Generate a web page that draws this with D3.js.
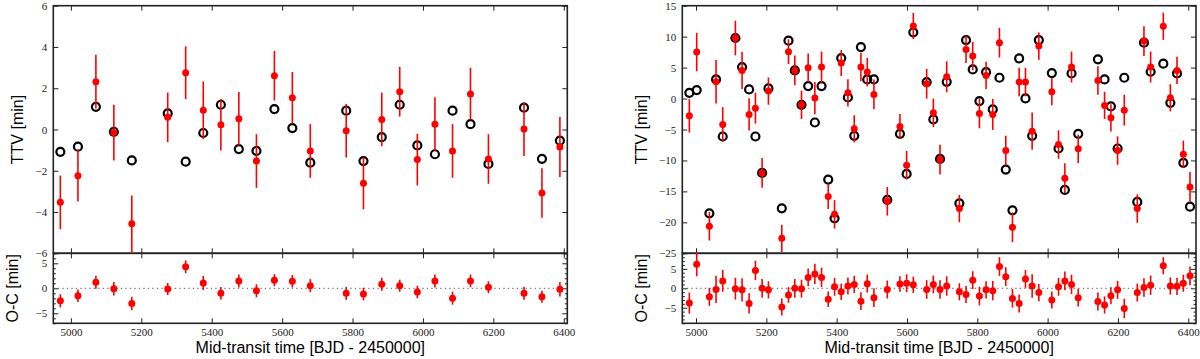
<!DOCTYPE html>
<head>
<meta charset="utf-8">
<script src="https://d3js.org/d3.v7.min.js"></script>
<style>
    body {
        margin: 0;
        background-color: #fff;
    }
    .tick text {
        font-family: "Liberation Serif", "DejaVu Serif", serif;
        font-size: 11px;
        fill: #222;
    }
    .tick line {
        stroke: #222;
        stroke-width: 1;
    }
    .axis-label {
        font-family: "Liberation Sans", Arial, sans-serif;
        font-size: 16px;
        fill: #000;
    }
</style>
</head>
<body>
<svg width="1200" height="359"></svg>
<script>

// ---- left system ----
var leftTime = [4970, 5020, 5071, 5122, 5173, 5275, 5326, 5376, 5426, 5477, 5527, 5578, 5629,
                5680, 5782, 5831, 5883, 5934, 5984, 6034, 6084, 6135, 6186, 6287, 6338, 6389];
var leftModel = [-1.08, -0.83, 1.10, -0.11, -1.50, 0.78, -1.56, -0.17, 1.20, -0.95, -1.04, 0.99, 0.07,
                 -1.61, 0.91, -1.53, -0.37, 1.20, -0.77, -1.20, 0.91, 0.26, -1.67, 1.06, -1.42, -0.54];
var leftObs = [-3.53, -2.24, 2.32, -0.15, -4.57, 0.59, 2.75, 0.93, 0.23, 0.52, -1.53, 2.61, 1.54,
               -1.04, -0.06, -2.61, 0.49, 1.83, -1.46, 0.26, -1.04, 1.72, -1.43, 0.02, -3.08, -0.85];
var leftErr = [1.30, 1.25, 1.30, 1.35, 1.37, 1.20, 1.28, 1.40, 1.25, 1.30, 1.30, 1.20, 1.25,
               1.30, 1.30, 1.26, 1.30, 1.20, 1.25, 1.30, 1.30, 1.27, 1.20, 1.30, 1.20, 1.45];
var leftOC = [-2.50, -1.50, 1.20, -0.07, -3.04, -0.14, 4.30, 1.07, -1.00, 1.48, -0.49, 1.62, 1.40,
              0.53, -1.01, -1.16, 0.80, 0.53, -0.75, 1.48, -1.97, 1.48, 0.20, -1.00, -1.70, -0.20];

// ---- right system ----
var rightTime = [4981, 5002, 5038, 5057, 5076, 5112, 5131, 5151, 5169, 5188, 5206, 5244, 5263,
                 5281, 5300, 5319, 5338, 5357, 5376, 5394, 5413, 5432, 5450, 5469, 5487, 5506,
                 5544, 5580, 5599, 5618, 5656, 5675, 5694, 5713, 5749, 5768, 5787, 5806, 5825,
                 5844, 5863, 5881, 5900, 5919, 5937, 5956, 5975, 6012, 6031, 6049, 6068, 6087,
                 6143, 6162, 6180, 6199, 6218, 6255, 6274, 6293, 6329, 6349, 6368, 6386, 6405];
var rightModel = [0.93, 1.37, -18.54, 3.09, -6.13, 9.78, 5.09, 1.47, -6.13, -12.01, 1.63, -17.73, 9.35,
                  4.55, -1.01, 2.01, -3.87, 2.01, -13.09, -19.35, 6.54, 0.18, -6.02, 8.32, 3.09, 3.09,
                  -16.38, -5.70, -12.17, 10.70, 2.66, -3.38, -9.75, 2.71, -16.92, 9.45, 4.71, -0.41, 4.28,
                  -1.76, 3.36, -11.47, -18.05, 6.49, 0.02, -6.02, 9.45, 4.12, -8.07, -14.76, 4.06, -5.70,
                  6.33, 3.09, -1.28, -8.07, 3.36, -16.70, 9.02, 4.33, 5.63, -0.69, 4.06, -10.39, -17.46];
var rightObs = [-2.79, 7.51, -20.64, 2.71, -4.19, 9.78, 4.55, -2.57, -1.55, -12.01, 1.20, -22.58, 7.57,
                4.55, -1.01, 4.98, 0.07, 5.09, -15.84, -18.70, 5.73, 0.93, -4.89, 5.09, 4.27, 0.66,
                -16.60, -4.51, -10.77, 11.72, 2.39, -2.30, -9.85, 3.52, -17.78, 7.94, 6.87, -2.41, 3.74,
                -2.57, 9.02, -8.40, -20.80, 2.66, 2.66, -5.27, 8.48, 1.10, -7.43, -12.87, 5.09, -8.13,
                2.93, -1.12, -3.11, -8.40, -1.87, -17.78, 9.29, 5.09, 11.67, 0.12, 4.55, -8.99, -14.28];
var rightErr = [2.7, 3.1, 2.3, 3.5, 2.8, 2.8, 3.0, 2.6, 2.5, 2.4, 2.2, 2.2, 2.0,
                2.4, 2.3, 2.3, 2.6, 2.5, 2.0, 2.3, 2.1, 2.2, 2.2, 2.3, 2.3, 2.4,
                2.3, 2.0, 2.3, 2.1, 2.4, 2.3, 2.4, 2.5, 2.2, 2.2, 2.3, 2.4, 2.2,
                2.5, 2.4, 2.4, 2.4, 2.3, 2.3, 3.0, 2.2, 2.2, 2.3, 2.4, 2.5, 2.3,
                2.3, 2.2, 2.2, 2.3, 2.5, 2.3, 2.4, 2.5, 2.2, 2.2, 2.2, 2.2, 2.4];
var rightOC = [-3.8, 6.2, -2.2, -0.3, 1.9, -0.1, -0.4, -3.9, 4.6, 0.0, -0.4, -4.8, -1.7,
               0.0, -0.1, 2.8, 3.7, 2.8, -2.8, 0.4, -0.9, 0.6, 1.0, -3.3, 1.2, -2.4,
               -0.3, 1.1, 1.3, 0.9, -0.3, 1.0, -0.3, 0.6, -0.9, -1.6, 2.1, -2.0, -0.4,
               -0.6, 5.6, 3.0, -2.6, -3.9, 2.4, 0.6, -1.1, -3.0, 0.4, 1.9, 1.0, -2.4,
               -3.4, -4.3, -1.9, -0.4, -5.2, -1.1, 0.2, 0.8, 5.8, 0.6, 0.5, 1.3, 3.2];

// tick labels
var xTicks = [5000, 5200, 5400, 5600, 5800, 6000, 6200, 6400];
var leftTTVTicks = [-6, -4, -2, 0, 2, 4, 6];
var rightTTVTicks = [-25, -20, -15, -10, -5, 0, 5, 10, 15];
var ocTicks = [-5, 0, 5];

var svg = d3.select("svg");

var topY0 = 5.7, topY1 = 253.3, botY1 = 323.3;

function zip(t, a, b, e) {
    return t.map(function(d, i) {
        return {t: d, model: a ? a[i] : null, obs: b[i], err: e[i]};
    });
}

function frame(g, x, y, ticksY, labelY, labelX, minor) {
    var x0 = x.range()[0], x1 = x.range()[1],
        yb = y.range()[0], yt = y.range()[1];

    g.append("g").attr("transform", "translate(0," + yb + ")")
        .call(d3.axisBottom(x).tickValues(xTicks).tickSizeInner(-5).tickSizeOuter(0)
            .tickPadding(5).tickFormat(labelX ? d3.format("d") : ""));
    g.append("g").attr("transform", "translate(0," + yt + ")")
        .call(d3.axisTop(x).tickValues(xTicks).tickSizeInner(-5).tickSizeOuter(0).tickFormat(""));
    g.append("g").attr("transform", "translate(" + x0 + ",0)")
        .call(d3.axisLeft(y).tickValues(ticksY).tickSizeInner(-5).tickSizeOuter(0)
            .tickPadding(6).tickFormat(labelY ? d3.format("d") : ""));
    g.append("g").attr("transform", "translate(" + x1 + ",0)")
        .call(d3.axisRight(y).tickValues(ticksY).tickSizeInner(-5).tickSizeOuter(0).tickFormat(""));

    if (minor) {
        var mt = d3.range(Math.ceil(y.domain()[0]), Math.floor(y.domain()[1]) + 1)
            .filter(function(v) { return v % 5 !== 0; });
        g.append("g").attr("transform", "translate(" + x0 + ",0)")
            .call(d3.axisLeft(y).tickValues(mt).tickSizeInner(-2.5).tickSizeOuter(0).tickFormat(""));
        g.append("g").attr("transform", "translate(" + x1 + ",0)")
            .call(d3.axisRight(y).tickValues(mt).tickSizeInner(-2.5).tickSizeOuter(0).tickFormat(""));
    }
    g.selectAll(".domain").remove();

    g.append("rect")
        .attr("x", x0).attr("y", yt)
        .attr("width", x1 - x0).attr("height", yb - yt)
        .attr("fill", "none").attr("stroke", "#222").attr("stroke-width", 1.6);
}

function points(g, x, y, data, withModel) {
    if (withModel) {
        g.append("g").selectAll("circle")
            .data(data).enter().append("circle")
            .attr("cx", function(d) { return x(d.t); })
            .attr("cy", function(d) { return y(d.model); })
            .attr("r", 4)
            .attr("fill", "none")
            .attr("stroke", "#000")
            .attr("stroke-width", 2.2);
    }
    g.append("g").selectAll("line")
        .data(data).enter().append("line")
        .attr("x1", function(d) { return x(d.t); })
        .attr("x2", function(d) { return x(d.t); })
        .attr("y1", function(d) { return y(d.obs - d.err); })
        .attr("y2", function(d) { return y(d.obs + d.err); })
        .attr("stroke", "#f00")
        .attr("stroke-width", 1.6);
    g.append("g").selectAll("circle")
        .data(data).enter().append("circle")
        .attr("cx", function(d) { return x(d.t); })
        .attr("cy", function(d) { return y(d.obs); })
        .attr("r", 3.5)
        .attr("fill", "#f00");
}

function drawSystem(opts) {
    var x = d3.scaleLinear().domain(opts.xDomain).range([opts.x0, opts.x1]);
    var yTop = d3.scaleLinear().domain(opts.ttvDomain).range([topY1, topY0]);
    var yBot = d3.scaleLinear().domain(opts.ocDomain).range([botY1, topY1]);

    var g = svg.append("g");

    frame(g, x, yTop, opts.ttvTicks, true, false, false);
    frame(g, x, yBot, ocTicks, true, true, true);

    // zero line in residual panel
    g.append("line")
        .attr("x1", opts.x0).attr("x2", opts.x1)
        .attr("y1", yBot(0)).attr("y2", yBot(0))
        .attr("stroke", "#555").attr("stroke-width", 1)
        .attr("stroke-dasharray", "1.3,3.2");

    points(g, x, yTop, zip(opts.time, opts.model, opts.obs, opts.err), true);
    points(g, x, yBot, zip(opts.time, null, opts.oc, opts.err), false);

    g.append("text").attr("class", "axis-label")
        .attr("text-anchor", "middle")
        .attr("x", (opts.x0 + opts.x1) / 2).attr("y", 353)
        .text("Mid-transit time [BJD - 2450000]");
    g.append("text").attr("class", "axis-label")
        .attr("text-anchor", "middle")
        .attr("transform", "translate(" + opts.ttvLabelX + "," + (topY0 + topY1) / 2 + ") rotate(-90)")
        .text("TTV [min]");
    g.append("text").attr("class", "axis-label")
        .attr("text-anchor", "middle")
        .attr("transform", "translate(" + opts.ocLabelX + "," + (topY1 + botY1) / 2 + ") rotate(-90)")
        .text("O-C [min]");
}

drawSystem({
    x0: 53.3, x1: 567.3, xDomain: [4950, 6410],
    ttvDomain: [-6, 6], ttvTicks: leftTTVTicks, ocDomain: [-7, 7],
    ttvLabelX: 23, ocLabelX: 18,
    time: leftTime, model: leftModel, obs: leftObs, err: leftErr, oc: leftOC
});

drawSystem({
    x0: 682.3, x1: 1196, xDomain: [4961, 6422],
    ttvDomain: [-25, 15], ttvTicks: rightTTVTicks, ocDomain: [-9, 9],
    ttvLabelX: 647, ocLabelX: 647,
    time: rightTime, model: rightModel, obs: rightObs, err: rightErr, oc: rightOC
});

</script>
</body>
